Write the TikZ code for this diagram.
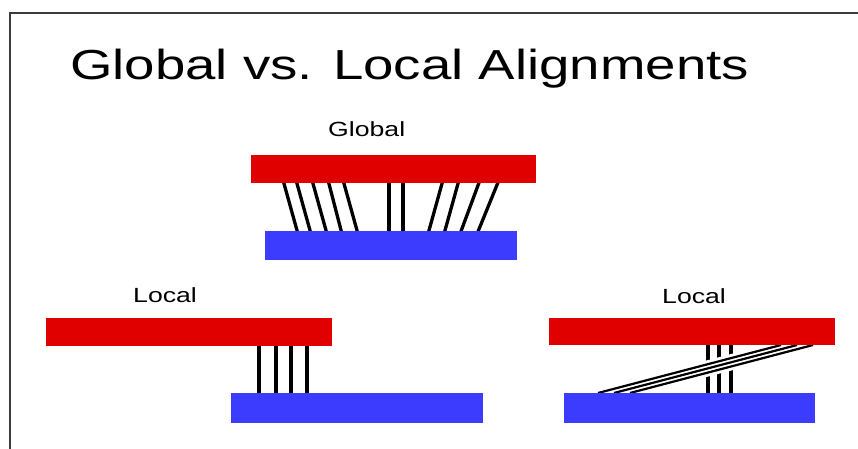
\documentclass[tikz,border=0pt]{standalone}
\usepackage{fontspec}
\setmainfont{Liberation Sans}
\newfontfamily\widefont[FakeStretch=1.3]{Liberation Sans}
\definecolor{seqred}{RGB}{224,0,0}
\definecolor{seqblue}{RGB}{60,60,255}
\definecolor{frame}{RGB}{60,60,60}
\begin{document}
\begin{tikzpicture}[x=1pt,y=-1pt,
  redbar/.style={fill=seqred,draw=none},
  bluebar/.style={fill=seqblue,draw=none},
  match/.style={draw=black,line width=3.3pt},
  thinmatch/.style={draw=black,line width=2.2pt},
  label/.style={anchor=base west,inner sep=0pt,font=\widefont\fontsize{20.5}{22}\selectfont}]
\useasboundingbox (0,0) rectangle (858,449);
% page frame (top and left edges)
\draw[frame,line width=1.5pt] (10,449) -- (10,13) -- (858,13);
% title
\node[anchor=base west,inner sep=0pt,font=\widefont\fontsize{42}{46}\selectfont] (title) at (70,80) {Global vs. Local Alignments};

% ---- global alignment ----
\node[label] (globlabel) at (328,137) {Global};
\foreach \a/\b in {283/298,296/311,312/327,328/342,343/358,389/389,403/403,443/428,459/444,480/460,499/477}
  \draw[match] (\a,180) -- (\b,234);
\fill[redbar] (251,155) rectangle (536,183);
\fill[bluebar] (265,231) rectangle (517,260);

% ---- local alignment, left ----
\node[label] (loclabelA) at (133,302) {Local};
\foreach \x in {259,276,291,307}
  \draw[match] (\x,343) -- (\x,396);
\fill[redbar] (46,318) rectangle (332,346);
\fill[bluebar] (231,393) rectangle (483,423);

% ---- local alignment, right ----
\node[label] (loclabelB) at (662,303) {Local};
\foreach \x in {708,719,731}
  \draw[match,line width=3.1pt] (\x,343) -- (\x,396);
% white band keeps the crossing diagonals apart from the verticals
\draw[white,line width=16pt] (797,345) -- (614,393);
\foreach \a/\b in {781/598,797/614,813/630}
  \draw[thinmatch] (\a,345) -- (\b,393);
\fill[redbar] (549,318) rectangle (835,345);
\fill[bluebar] (564,393) rectangle (815,423);
\end{tikzpicture}
\end{document}
